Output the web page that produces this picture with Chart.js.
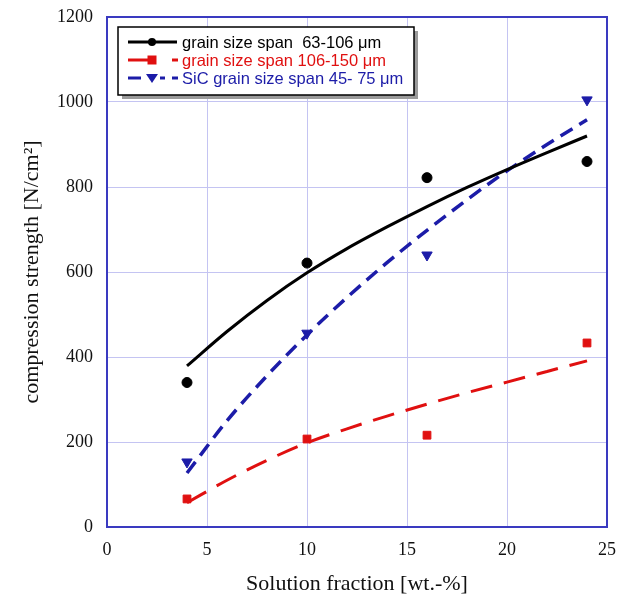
<!DOCTYPE html>
<html>
<head>
<meta charset="utf-8">
<script src="https://cdn.jsdelivr.net/npm/chart.js@4.4.0/dist/chart.umd.min.js"></script>
<style>
  html, body { margin: 0; padding: 0; background: #fff; }
  #wrap { width: 620px; height: 600px; }
</style>
</head>
<body>
<div id="wrap"><canvas id="chart" width="620" height="600"></canvas></div>
<script>
// measured points
const solutionFraction = [4, 10, 16, 24];
const strength63 = [340, 621, 822, 860];
const strength106 = [66, 207, 216, 433];
const strengthSiC = [153, 456, 640, 1005];

// fitted curves
const fitX = [4, 6, 8, 10, 12, 14, 16, 18, 20, 22, 24];
const fit63 = [379, 460, 533, 598, 655, 706, 754, 799, 841, 881, 920];
const fit106 = [57, 110, 157, 198, 231, 261, 289, 316, 341, 366, 391];
const fitSiC = [127, 250, 356, 452, 540, 622, 698, 770, 838, 900, 958];

const xTicks = [0, 5, 10, 15, 20, 25];
const yTicks = [0, 200, 400, 600, 800, 1000, 1200];

const legendLabels = [
    'grain size span  63-106 \u03bcm',
    'grain size span 106-150 \u03bcm',
    'SiC grain size span 45- 75 \u03bcm'
];

const black = '#000000';
const red = '#e01010';
const blue = '#1c1ca8';
const frameBlue = '#3a3ac0';

function pts(xs, ys) {
    return xs.map((x, i) => ({ x: x, y: ys[i] }));
}

// blue frame round the plot area
const frame = {
    id: 'frame',
    afterDatasetsDraw(chart) {
        const a = chart.chartArea;
        const ctx = chart.ctx;
        ctx.save();
        ctx.strokeStyle = frameBlue;
        ctx.lineWidth = 2;
        ctx.strokeRect(a.left, a.top, a.right - a.left, a.bottom - a.top);
        ctx.restore();
    }
};

// legend drawn as a box with shadow, like the original
const boxLegend = {
    id: 'boxLegend',
    afterDraw(chart) {
        const ctx = chart.ctx;
        const x0 = 118, y0 = 27, w = 296, h = 68;
        ctx.save();
        ctx.fillStyle = '#9a9a9a';
        ctx.fillRect(x0 + 4, y0 + 4, w, h);
        ctx.fillStyle = '#ffffff';
        ctx.fillRect(x0, y0, w, h);
        ctx.strokeStyle = '#000';
        ctx.lineWidth = 1.5;
        ctx.strokeRect(x0, y0, w, h);

        // line sample pieces for each row
        const rows = [
            { c: black, segs: [[128, 177]], shape: 'circle', y: 42 },
            { c: red, segs: [[128, 150], [172, 178]], shape: 'rect', y: 60 },
            { c: blue, segs: [[128, 141], [160, 165], [172, 178]], shape: 'tri', y: 78 }
        ];
        ctx.font = '16.5px "Liberation Sans", Arial, sans-serif';
        ctx.textBaseline = 'middle';
        rows.forEach((r, i) => {
            ctx.strokeStyle = r.c;
            ctx.fillStyle = r.c;
            ctx.lineWidth = 3;
            r.segs.forEach(s => {
                ctx.beginPath();
                ctx.moveTo(s[0], r.y);
                ctx.lineTo(s[1], r.y);
                ctx.stroke();
            });
            const mx = 152;
            ctx.beginPath();
            if (r.shape === 'circle') {
                ctx.arc(mx, r.y, 4, 0, Math.PI * 2);
            } else if (r.shape === 'rect') {
                ctx.rect(mx - 4.5, r.y - 4.5, 9, 9);
            } else {
                ctx.moveTo(mx - 6, r.y - 4);
                ctx.lineTo(mx + 6, r.y - 4);
                ctx.lineTo(mx, r.y + 5);
                ctx.closePath();
            }
            ctx.fill();
            ctx.fillText(legendLabels[i], 182, r.y + 1);
        });
        ctx.restore();
    }
};

const serif = '"Liberation Serif", "Times New Roman", serif';

new Chart(document.getElementById('chart'), {
    type: 'scatter',
    data: {
        datasets: [
            { type: 'line', data: pts(fitX, fit63), borderColor: black, borderWidth: 3, pointRadius: 0, cubicInterpolationMode: 'monotone', fill: false },
            { type: 'line', data: pts(fitX, fit106), borderColor: red, borderWidth: 3, borderDash: [22, 12], pointRadius: 0, cubicInterpolationMode: 'monotone', fill: false },
            { type: 'line', data: pts(fitX, fitSiC), borderColor: blue, borderWidth: 3.5, borderDash: [14, 8], pointRadius: 0, cubicInterpolationMode: 'monotone', fill: false },
            { data: pts(solutionFraction, strength63), backgroundColor: black, borderColor: black, pointStyle: 'circle', pointRadius: 5 },
            { data: pts(solutionFraction, strength106), backgroundColor: red, borderColor: red, pointStyle: 'rect', pointRadius: 5.5 },
            { data: pts(solutionFraction, strengthSiC), backgroundColor: blue, borderColor: blue, pointStyle: 'triangle', rotation: 180, pointRadius: 6 }
        ]
    },
    options: {
        responsive: false,
        animation: false,
        layout: { padding: { left: 0, right: 13, top: 17, bottom: 0 } },
        plugins: { legend: { display: false }, tooltip: { enabled: false } },
        scales: {
            x: {
                type: 'linear', min: 0, max: 25,
                afterBuildTicks: s => { s.ticks = xTicks.map(v => ({ value: v })); },
                afterFit: s => { s.height = 73; s.paddingLeft = 0; s.paddingRight = 0; },
                grid: { color: '#c4c4f2', lineWidth: 1, drawTicks: false },
                border: { color: frameBlue, width: 2 },
                ticks: { color: '#111', padding: 12, font: { family: serif, size: 18 }, maxRotation: 0, callback: v => String(v) },
                title: { display: true, text: 'Solution fraction [wt.-%]', color: '#111', font: { family: serif, size: 22 }, padding: { top: 0, bottom: 3 } }
            },
            y: {
                min: 0, max: 1200,
                afterBuildTicks: s => { s.ticks = yTicks.map(v => ({ value: v })); },
                afterFit: s => { s.width = 107; s.paddingTop = 0; s.paddingBottom = 0; },
                grid: { color: '#c4c4f2', lineWidth: 1, drawTicks: false },
                border: { color: frameBlue, width: 2 },
                ticks: { color: '#111', padding: 14, font: { family: serif, size: 18 }, callback: v => String(v) },
                title: { display: true, text: 'compression strength [N/cm\u00b2]', color: '#111', font: { family: serif, size: 22 }, padding: { top: 19, bottom: 0 } }
            }
        }
    },
    plugins: [frame, boxLegend]
});
</script>
</body>
</html>
